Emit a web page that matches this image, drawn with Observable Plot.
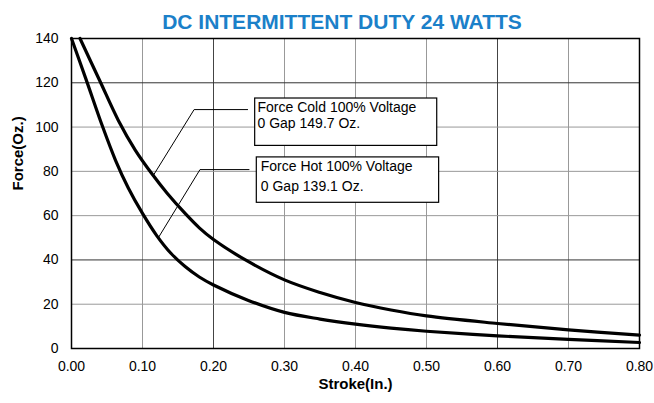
<!DOCTYPE html>
<html>
<head>
<meta charset="utf-8">
<script src="https://cdn.jsdelivr.net/npm/d3@7"></script>
<script src="https://cdn.jsdelivr.net/npm/@observablehq/plot@0.6"></script>
<style>
  html, body { margin: 0; padding: 0; background: #fff; }
  body { position: relative; width: 654px; height: 403px; }
  #title { position: absolute; z-index: 2; top: 0; left: 0; height: 44px; line-height: 44px; font-family: "Liberation Sans", Arial, sans-serif; font-weight: bold; font-size: 21px; color: #1b80c9; text-align: center; padding-left: 30px; box-sizing: border-box; width: 654px; }
  #chart { position: absolute; top: 26px; left: 0; }
</style>
</head>
<body>
<div id="title">DC INTERMITTENT DUTY 24 WATTS</div>
<div id="chart"></div>
<script>
// Series: Force Hot 100% Voltage
const hotStroke = [0, 0.02, 0.044, 0.062, 0.08, 0.1, 0.12, 0.14, 0.16, 0.18, 0.2, 0.25, 0.3, 0.35, 0.4, 0.45, 0.5, 0.6, 0.7, 0.8];
const hotForce  = [140, 122, 100, 85, 72.5, 61, 51, 43, 37, 32.3, 28.7, 21.6, 16.3, 13.3, 11, 9.2, 7.8, 5.7, 4.1, 2.7];
// Series: Force Cold 100% Voltage
const coldStroke = [0.012, 0.04, 0.066, 0.09, 0.113, 0.135, 0.16, 0.18, 0.2, 0.245, 0.3, 0.35, 0.4, 0.45, 0.5, 0.6, 0.7, 0.8];
const coldForce  = [140, 120.8, 103, 89.5, 79, 70, 61, 54.5, 49.2, 40, 31, 25.3, 20.8, 17.4, 14.7, 11.3, 8.4, 6];

const xTicks = [0, 0.1, 0.2, 0.3, 0.4, 0.5, 0.6, 0.7, 0.8];
const yTicks = [0, 20, 40, 60, 80, 100, 120, 140];
const xLabel = "Stroke(In.)";
const yLabel = "Force(Oz.)";

// Annotation boxes
const boxName = ["cold", "hot"];
const boxX1 = [0.2587, 0.2610];
const boxX2 = [0.5151, 0.5178];
const boxY1 = [91.5, 65.8];
const boxY2 = [112.9, 86.3];
const noteText = ["Force Cold 100% Voltage", "0 Gap 149.7 Oz.", "Force Hot 100% Voltage", "0 Gap 139.1 Oz."];
const noteX = [0.262, 0.262, 0.2666, 0.2666];
const noteY = [108.9, 101.6, 82.0, 73.3];
// Leader lines
const leaderId = ["cold", "cold", "cold", "hot", "hot", "hot"];
const leaderX = [0.248, 0.1727, 0.1155, 0.250, 0.181, 0.123];
const leaderY = [107.9, 107.9, 78.3, 80.8, 80.8, 50.4];

const hot = hotStroke.map((x, i) => ({x, y: hotForce[i]}));
const cold = coldStroke.map((x, i) => ({x, y: coldForce[i]}));
const boxes = boxName.map((n, i) => ({x1: boxX1[i], x2: boxX2[i], y1: boxY1[i], y2: boxY2[i]}));
const notes = noteText.map((t, i) => ({t, x: noteX[i], y: noteY[i]}));
const leaders = leaderId.map((id, i) => ({id, x: leaderX[i], y: leaderY[i]}));

const chart = Plot.plot({
  width: 654,
  height: 377,
  marginTop: 12,
  marginLeft: 71,
  marginRight: 15,
  marginBottom: 55,
  style: {fontFamily: "'Liberation Sans', Arial, sans-serif", fontSize: "14px", color: "black", background: "transparent"},
  x: {domain: [0, 0.8]},
  y: {domain: [0, 140]},
  marks: [
    Plot.gridX([0.1, 0.3, 0.4, 0.5, 0.7], {stroke: "#999", strokeOpacity: 1}),
    Plot.gridX([0.2, 0.6], {stroke: "#444", strokeOpacity: 1}),
    Plot.gridY([20, 60, 80, 100], {stroke: "#999", strokeOpacity: 1}),
    Plot.gridY([40, 120], {stroke: "#333", strokeOpacity: 1}),
    Plot.axisX({ticks: xTicks, tickSize: 0, tickPadding: 13, tickFormat: d3.format(".2f"), label: null, fontSize: 14}),
    Plot.axisY({ticks: yTicks, tickSize: 0, tickPadding: 13, label: null, fontSize: 14}),
    Plot.text([xLabel], {frameAnchor: "bottom", dy: 36, lineAnchor: "middle", fontWeight: "bold", fontSize: 15, text: d => d}),
    Plot.text([yLabel], {frameAnchor: "left", dx: -53, dy: -3, rotate: -90, lineAnchor: "middle", fontWeight: "bold", fontSize: 15, text: d => d}),
    Plot.line(leaders, {x: "x", y: "y", z: "id", stroke: "black", strokeWidth: 1}),
    Plot.rect(boxes, {x1: "x1", x2: "x2", y1: "y1", y2: "y2", fill: "white", stroke: "black", strokeWidth: 1.2}),
    Plot.text(notes, {x: "x", y: "y", text: "t", textAnchor: "start", lineAnchor: "middle", fontSize: 14}),
    Plot.line(hot, {x: "x", y: "y", stroke: "black", strokeWidth: 3.2, curve: "catmull-rom"}),
    Plot.line(cold, {x: "x", y: "y", stroke: "black", strokeWidth: 3.2, curve: "catmull-rom"}),
    Plot.frame({stroke: "black", strokeWidth: 1.5})
  ]
});
document.getElementById("chart").appendChild(chart);
</script>
</body>
</html>
